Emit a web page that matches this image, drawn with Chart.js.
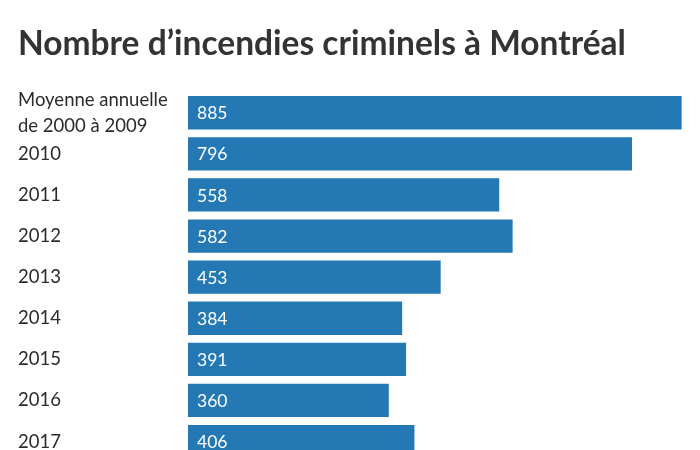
<!DOCTYPE html>
<html>
<head>
    <title>Nombre d'incendies criminels à Montréal</title>
    <script src="https://cdn.jsdelivr.net/npm/chart.js"></script>
    <style>
        html, body { margin: 0; padding: 0; background: #fff; overflow: hidden; }
        #wrap { width: 700px; height: 491px; }
    </style>
</head>
<body>
    <div id="wrap">
        <canvas id="myChart"></canvas>
    </div>
    <script>
        const categories = [
            ['Moyenne annuelle', 'de 2000 à 2009'],
            '2010', '2011', '2012', '2013', '2014', '2015', '2016', '2017'
        ];
        const incendies = [885, 796, 558, 582, 453, 384, 391, 360, 406];

        // writes the value in white at the start of each bar
        const valueLabels = {
            id: 'valueLabels',
            afterDatasetsDraw(chart) {
                const ctx = chart.ctx;
                const meta = chart.getDatasetMeta(0);
                ctx.save();
                ctx.fillStyle = '#ffffff';
                ctx.font = '17.5px Lato';
                ctx.textAlign = 'left';
                ctx.textBaseline = 'middle';
                meta.data.forEach((bar, i) => {
                    ctx.fillText(incendies[i], bar.base + 9, bar.y + 1);
                });
                ctx.restore();
            }
        };

        const ctx = document.getElementById('myChart').getContext('2d');
        const myChart = new Chart(ctx, {
            type: 'bar',
            data: {
                labels: categories,
                datasets: [{
                    data: incendies,
                    backgroundColor: '#2479b5',
                    borderWidth: 0,
                    barPercentage: 0.81,
                    categoryPercentage: 1
                }]
            },
            options: {
                indexAxis: 'y',
                responsive: true,
                maintainAspectRatio: false,
                animation: false,
                layout: { padding: { left: 18, right: 10, top: 24, bottom: 0 } },
                plugins: {
                    legend: { display: false },
                    tooltip: { enabled: false },
                    title: {
                        display: true,
                        text: 'Nombre d\u2019incendies criminels à Montréal',
                        align: 'start',
                        color: '#333333',
                        font: { family: 'Lato', size: 33.5, weight: 'bold' },
                        padding: { top: 0, bottom: 28 }
                    }
                },
                scales: {
                    x: {
                        display: false,
                        min: 0,
                        max: 900
                    },
                    y: {
                        grid: { display: false },
                        border: { display: false },
                        afterFit(scale) { scale.width = 170; },
                        ticks: {
                            autoSkip: false,
                            crossAlign: 'far',
                            color: '#2b2b2b',
                            font: { family: 'Lato', size: 18.5, lineHeight: 1.4 }
                        }
                    }
                }
            },
            plugins: [valueLabels]
        });
    </script>
</body>
</html>
